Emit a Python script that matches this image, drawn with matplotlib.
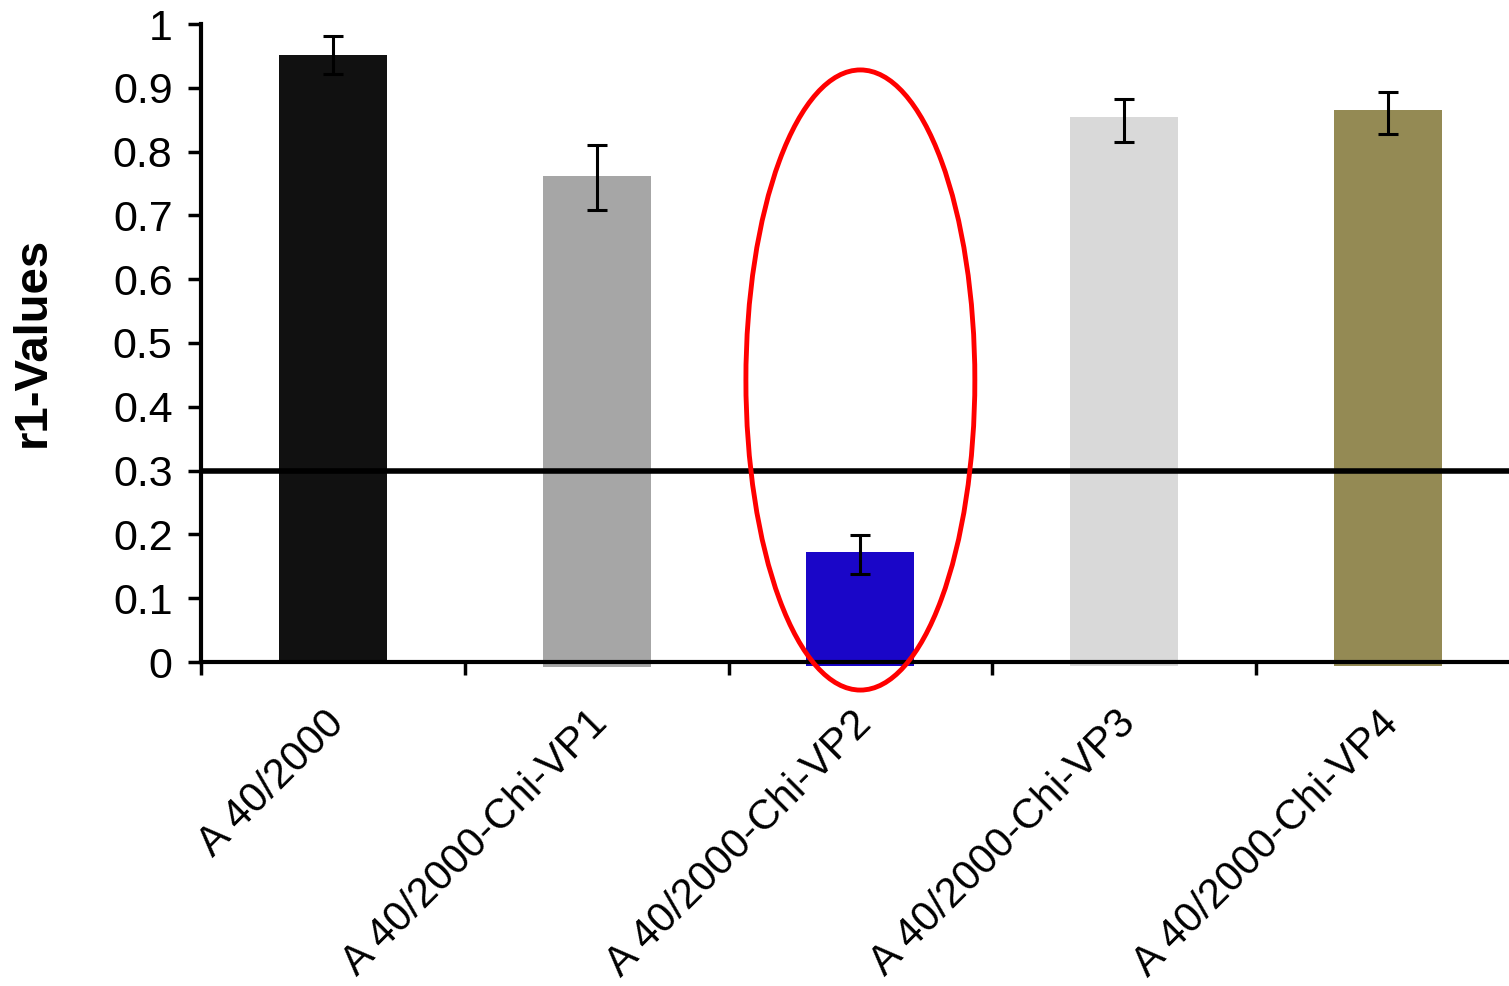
import matplotlib
matplotlib.use("Agg")
import matplotlib.pyplot as plt
from matplotlib.patches import Ellipse
import matplotlib.transforms as mtransforms
import numpy as np

# data
labels = ["A 40/2000", "A 40/2000-Chi-VP1", "A 40/2000-Chi-VP2",
          "A 40/2000-Chi-VP3", "A 40/2000-Chi-VP4"]
values = [0.951, 0.762, 0.172, 0.854, 0.865]
err_low = [0.921, 0.708, 0.138, 0.815, 0.828]
err_high = [0.981, 0.810, 0.199, 0.882, 0.893]
bar_bottoms = [0.0, -0.008, -0.007, -0.007, -0.007]
colors = ["#111111", "#a6a6a6", "#1a06c8", "#d9d9d9", "#948a54"]
threshold = 0.3
yticks = [0, 0.1, 0.2, 0.3, 0.4, 0.5, 0.6, 0.7, 0.8, 0.9, 1]
ytick_labels = ["0", "0.1", "0.2", "0.3", "0.4", "0.5", "0.6", "0.7", "0.8", "0.9", "1"]

plt.rcParams['font.family'] = ['Liberation Sans', 'DejaVu Sans']

W, H = 1509, 986
fig = plt.figure(figsize=(W / 100, H / 100), dpi=100)
# axes box in pixels: left 201, bottom 662, top 24, 263.75 px per category
ax = fig.add_axes([201 / W, (H - 662) / H, 5 * 263.75 / W, (662 - 24) / H])

x = np.arange(len(labels))
vals = np.array(values)
bots = np.array(bar_bottoms)
ax.bar(x, vals - bots, bottom=bots, width=0.41, color=colors, zorder=2, clip_on=False)

lo = vals - np.array(err_low)
hi = np.array(err_high) - vals
ax.errorbar(x, vals, yerr=[lo, hi], fmt='none', ecolor='black',
            elinewidth=2.2, capsize=7, capthick=2.2, zorder=3)

ax.axhline(threshold, color='black', lw=4, zorder=4)

ell = Ellipse((2, 0.442), width=0.868, height=0.972, fill=False,
              edgecolor='#ff0000', lw=3.5, zorder=5, clip_on=False)
ax.add_patch(ell)

ax.set_xlim(-0.5, 4.5)
ax.set_ylim(0, 1)

ax.set_yticks(yticks)
ax.set_yticklabels(ytick_labels, fontsize=31)
ax.tick_params(axis='y', direction='out', length=9.5, width=2.5, pad=11)

ax.set_xticks(x)
ax.set_xticklabels(labels, fontsize=30, rotation=45, ha='right', va='center',
                   rotation_mode='anchor')
ax.set_xticks(np.arange(-0.5, 5, 1), minor=True)
ax.tick_params(axis='x', which='major', length=0, pad=40)
ax.tick_params(axis='x', which='minor', direction='out', length=9.5, width=2.5)
offset = mtransforms.ScaledTranslation(5 / 100, 0, fig.dpi_scale_trans)
for lab in ax.get_xticklabels():
    lab.set_transform(lab.get_transform() + offset)

for s in ['top', 'right']:
    ax.spines[s].set_visible(False)
ax.spines['left'].set_linewidth(3)
ax.spines['bottom'].set_linewidth(3)
ax.spines['bottom'].set_zorder(4)

fig.text(33 / W, 1 - 342 / H, "r1-Values", rotation=90, ha='center', va='center',
         fontsize=34, fontweight='bold')

fig.savefig("out.png", dpi=100)
